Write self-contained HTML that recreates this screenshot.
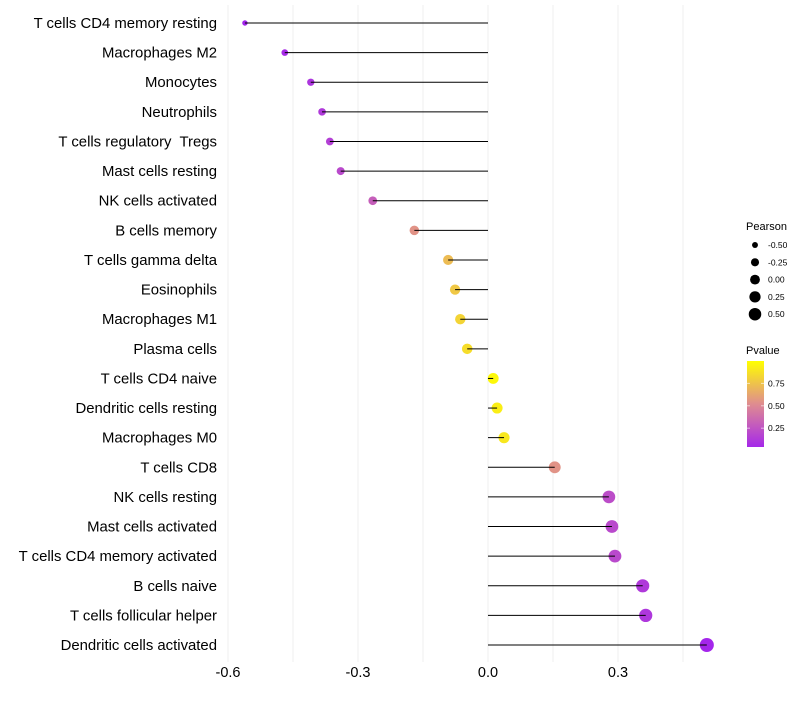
<!DOCTYPE html>
<html><head><meta charset="utf-8"><style>
body{margin:0;background:#fff;}
svg text{font-family:"Liberation Sans",sans-serif;white-space:pre;}
</style></head><body>
<svg id="chart" width="800" height="700" xmlns="http://www.w3.org/2000/svg">
<g id="grid"></g>
<g id="dots"></g>
<g id="marks"></g>
<g id="ylabels"></g>
<g id="xlabels"></g>
<g id="legend"></g>
</svg>
<script>
const categories=["T cells CD4 memory resting","Macrophages M2","Monocytes","Neutrophils","T cells regulatory  Tregs","Mast cells resting","NK cells activated","B cells memory","T cells gamma delta","Eosinophils","Macrophages M1","Plasma cells","T cells CD4 naive","Dendritic cells resting","Macrophages M0","T cells CD8","NK cells resting","Mast cells activated","T cells CD4 memory activated","B cells naive","T cells follicular helper","Dendritic cells activated"];
const pearson=[-0.561,-0.469,-0.409,-0.383,-0.365,-0.340,-0.266,-0.170,-0.092,-0.076,-0.064,-0.048,0.012,0.021,0.037,0.154,0.279,0.286,0.293,0.357,0.364,0.505];
const pvalue=[0.02,0.05,0.1,0.12,0.15,0.2,0.3,0.55,0.72,0.77,0.82,0.86,0.97,0.93,0.9,0.55,0.22,0.2,0.2,0.12,0.11,0.03];
const xTicks=[-0.6,-0.3,0.0,0.3];
const xTickLabels=["-0.6","-0.3","0.0","0.3"];
const xMinor=[-0.45,-0.15,0.15,0.45];
const legendSizes=[-0.5,-0.25,0,0.25,0.5];
const legendSizeLabels=["-0.50","-0.25","0.00","0.25","0.50"];
const pTicks=[0.25,0.5,0.75];
const pTickLabels=["0.25","0.50","0.75"];

const NS="http://www.w3.org/2000/svg";
const x=v=>488+v*433.3;
const y=i=>23+i*29.62;
const r=v=>Math.sqrt(Math.max(2,29.4+v*39.3));
function lerp(a,b,t){return a.map((c,i)=>Math.round(c+(b[i]-c)*t));}
function col(p){const lo=[160,32,240],mid=[222,135,150],hi=[255,255,0];
 const c=p<0.5?lerp(lo,mid,p/0.5):lerp(mid,hi,(p-0.5)/0.5);return `rgb(${c})`;}
function mk(tag,attrs,parent){const e=document.createElementNS(NS,tag);for(const k in attrs)e.setAttribute(k,attrs[k]);parent.appendChild(e);return e;}
const grid=document.getElementById('grid'),dots=document.getElementById('dots'),marks=document.getElementById('marks'),yl=document.getElementById('ylabels'),xl=document.getElementById('xlabels'),lg=document.getElementById('legend');
xTicks.concat(xMinor).forEach(v=>{const l=mk('line',{x1:x(v),x2:x(v),y1:5,y2:662,stroke:'#efefef','stroke-width':1},grid);

});
xTicks.forEach((v,i)=>{const t=mk('text',{x:x(v),y:677,'font-size':14.5,'text-anchor':'middle',fill:'#000'},xl);t.textContent=xTickLabels[i];

});
categories.forEach((c,i)=>{
 const d=mk('circle',{cx:x(pearson[i]),cy:y(i),r:r(pearson[i]),fill:col(pvalue[i])},dots);
 
 
 const s=mk('line',{x1:x(0),x2:x(pearson[i]),y1:y(i),y2:y(i),stroke:'#000','stroke-width':1},marks);
 
 
 const t=mk('text',{x:217,y:y(i)+5,'font-size':14.9,'text-anchor':'end',fill:'#000'},yl);t.textContent=c;
 
 
});
let t=mk('text',{x:746,y:230,'font-size':11},lg);t.textContent="Pearson";


legendSizes.forEach((v,i)=>{const cy=245+i*17.3;
 const c=mk('circle',{cx:755,cy:cy,r:r(v)*0.85+0.3,fill:'#000'},lg);
 
 
 const tt=mk('text',{x:768,y:cy+3,'font-size':8.5},lg);tt.textContent=legendSizeLabels[i];
 
 });
t=mk('text',{x:746,y:354,'font-size':11},lg);t.textContent="Pvalue";


const defs=mk('defs',{},lg);const g=mk('linearGradient',{id:'pg',x1:0,y1:1,x2:0,y2:0},defs);
[0,0.25,0.5,0.75,1].forEach(p=>mk('stop',{offset:p,'stop-color':col(0.04+p*0.96)},g));
const bar=mk('rect',{x:747,y:361,width:17,height:86,fill:'url(#pg)'},lg);


const py=p=>447-(p-0.04)/0.96*86;
pTicks.forEach((p,i)=>{mk('line',{x1:747,x2:750,y1:py(p),y2:py(p),stroke:'#fff','stroke-opacity':0.6},lg);mk('line',{x1:761,x2:764,y1:py(p),y2:py(p),stroke:'#fff','stroke-opacity':0.6},lg);
 const tt=mk('text',{x:768,y:py(p)+3,'font-size':8.5},lg);tt.textContent=pTickLabels[i];
 
 });
</script>
</body></html>
